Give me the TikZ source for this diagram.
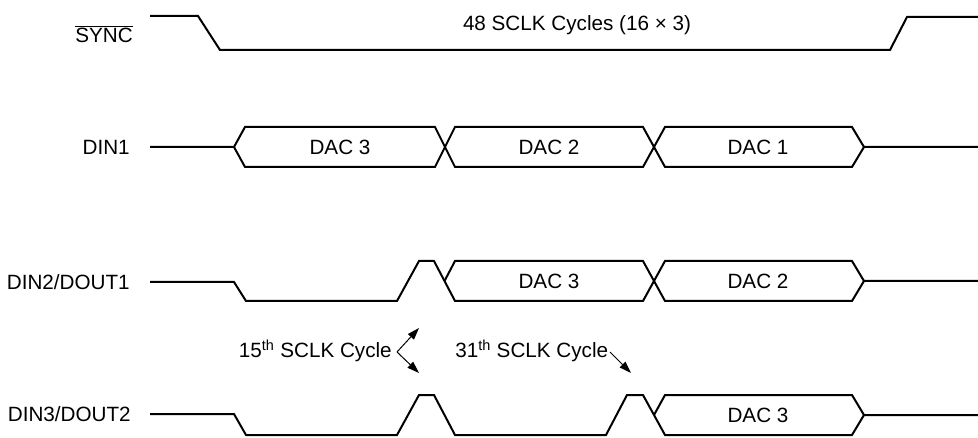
\documentclass[tikz,border=0pt]{standalone}
\usepackage{fontspec}
\setmainfont{Liberation Sans}
\usetikzlibrary{arrows.meta}
\begin{document}
\begin{tikzpicture}[x=0.75pt,y=-0.75pt,
 sig/.style={line width=1.5pt, line join=miter},
 lab/.style={font=\fontsize{15.5}{18}\selectfont, inner sep=0pt},
 ann/.style={-{Triangle[length=9pt,width=6pt]}, line width=0.75pt}]
\useasboundingbox (0,0) rectangle (978,438);

% SYNC
\node[lab,anchor=east] (sync) at (133,34) {$\overline{\mbox{SYNC}}$};
\draw[sig] (150,16) -- (198,16) -- (220,50) -- (890,50) -- (907,17) -- (978,17);
\node[lab] (cyc) at (577,25) {48 SCLK Cycles (16 × 3)};

% DIN1
\node[lab,anchor=east] (din1) at (130,147) {DIN1};
\draw[sig] (150,147) -- (234,147) -- (245,127) -- (435,127) -- (455,167) -- (643,167) -- (665,127) -- (852,127) -- (864,147) -- (978,147);
\draw[sig] (234,147) -- (245,167) -- (435,167) -- (455,127) -- (643,127) -- (665,167) -- (852,167) -- (864,147);
\node[lab] (d1a) at (340,147) {DAC 3};
\node[lab] (d1b) at (549,147) {DAC 2};
\node[lab] (d1c) at (758,147) {DAC 1};

% DIN2/DOUT1
\node[lab,anchor=east] (din2) at (130,282) {DIN2/DOUT1};
\draw[sig] (150,282) -- (234,282) -- (246,301) -- (397,301) -- (419,261) -- (434,261) -- (455,301) -- (643,301) -- (665,261) -- (852,261) -- (864,281) -- (978,281);
\draw[sig] (444.5,281) -- (455,261) -- (643,261) -- (665,301) -- (852,301) -- (864,281);
\node[lab] (d2a) at (549,281) {DAC 3};
\node[lab] (d2b) at (758,281) {DAC 2};

% DIN3/DOUT2
\node[lab,anchor=east] (din3) at (131,414) {DIN3/DOUT2};
\draw[sig] (150,414) -- (234,414) -- (246,435) -- (397,435) -- (419,395) -- (434,395) -- (455,435) -- (606,435) -- (627,395) -- (643,395) -- (665,435) -- (852,435) -- (864,415) -- (978,415);
\draw[sig] (654,415) -- (665,395) -- (852,395) -- (864,415);
\node[lab] (d3a) at (758,415) {DAC 3};

% annotations
\node[lab,anchor=east] (c15) at (392,351) {15\textsuperscript{th} SCLK Cycle};
\coordinate (v15) at (397,352);
\coordinate (t15a) at (419,328);
\coordinate (t15b) at (419,373);
\draw[ann] (v15) -- (t15a);
\draw[ann] (v15) -- (t15b);

\node[lab,anchor=west] (c31) at (455,351) {31\textsuperscript{th} SCLK Cycle};
\coordinate (v31) at (610,352);
\coordinate (t31) at (631,373);
\draw[ann] (v31) -- (t31);
\end{tikzpicture}
\end{document}
